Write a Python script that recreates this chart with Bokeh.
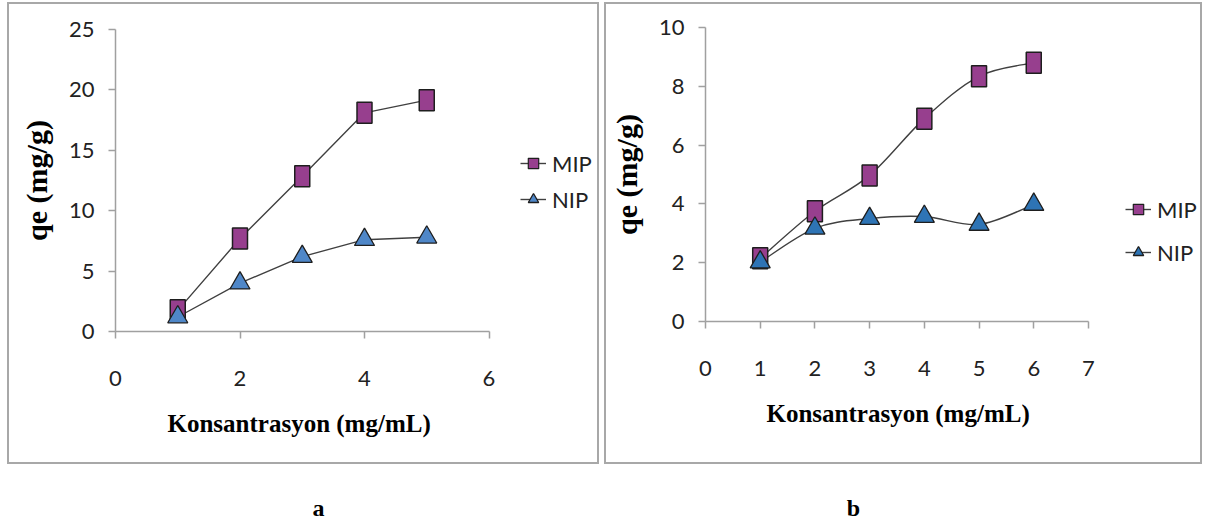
from bokeh.plotting import figure
from bokeh.models import Range1d, Legend, LegendItem, Label, Spacer, FixedTicker, Title
from bokeh.layouts import row, column
from bokeh.embed import file_html
from bokeh.resources import INLINE

# ---------------- data ----------------
conc_a = [1, 2, 3, 4, 5]
mip_a = [1.75, 7.7, 12.85, 18.1, 19.15]
nip_a = [1.2, 4.0, 6.2, 7.6, 7.8]

conc_b = [1, 2, 3, 4, 5, 6]
mip_b = [2.15, 3.75, 4.97, 6.9, 8.34, 8.8]
nip_b = [2.02, 3.17, 3.5, 3.57, 3.3, 3.98]

x_ticks_a = [0, 2, 4, 6]
y_ticks_a = [0, 5, 10, 15, 20, 25]
x_ticks_b = [0, 1, 2, 3, 4, 5, 6, 7]
y_ticks_b = [0, 2, 4, 6, 8, 10]

series_names = ["MIP", "NIP"]
panel_labels = ["a", "b"]
x_title = "Konsantrasyon (mg/mL)"
y_title = "qe (mg/g)"

# ---------------- styles ----------------
MIP_FILL = "#973F8E"
NIP_FILL_A = "#4F87C8"
NIP_FILL_B = "#2E74B5"
EDGE = "#1E1E1E"
LINE = "#404040"
AXIS = "#A0A0A0"
BOX = "#A8A8A8"
TICK_FONT = "Lato"
TITLE_FONT = "Liberation Serif"
FIG_H = 470
BOX_H = 462


def catmull_bezier(xs, ys):
    n = len(xs)
    out = dict(x0=[], y0=[], x1=[], y1=[], cx0=[], cy0=[], cx1=[], cy1=[])
    for i in range(n - 1):
        xm, ym = (xs[i - 1], ys[i - 1]) if i > 0 else (xs[i], ys[i])
        xp, yp = (xs[i + 2], ys[i + 2]) if i + 2 < n else (xs[i + 1], ys[i + 1])
        out["x0"].append(xs[i]); out["y0"].append(ys[i])
        out["x1"].append(xs[i + 1]); out["y1"].append(ys[i + 1])
        out["cx0"].append(xs[i] + (xs[i + 1] - xm) / 6.0)
        out["cy0"].append(ys[i] + (ys[i + 1] - ym) / 6.0)
        out["cx1"].append(xs[i + 1] - (xp - xs[i]) / 6.0)
        out["cy1"].append(ys[i + 1] - (yp - ys[i]) / 6.0)
    return out


def box_styles(w):
    g = f"linear-gradient({BOX},{BOX})"
    return {
        "background-image": ", ".join([g] * 4),
        "background-size": f"{w}px 2px, {w}px 2px, 2px {BOX_H}px, 2px {BOX_H}px",
        "background-position": f"0px 0px, 0px {BOX_H - 2}px, 0px 0px, {w - 2}px 0px",
        "background-repeat": "no-repeat",
    }


def make_panel(x, mip, nip, x_end, xr_view, yr, xt, yt, width, borders, smooth,
               nip_fill, leg_loc, leg_spacing, title_offset):
    bl, bt, bb = borders
    p = figure(width=width, height=FIG_H, x_range=Range1d(0, x_end), y_range=Range1d(*yr),
               output_backend="svg", toolbar_location=None,
               min_border_left=bl, min_border_right=0,
               min_border_top=bt, min_border_bottom=bb,
               background_fill_color=None, border_fill_color=None,
               styles=box_styles(width))
    p.outline_line_color = None
    p.xgrid.visible = False
    p.ygrid.visible = False

    for ax in (p.xaxis[0], p.yaxis[0]):
        ax.axis_line_color = AXIS
        ax.axis_line_width = 1.5
        ax.major_tick_line_color = AXIS
        ax.major_tick_line_width = 1.5
        ax.major_tick_in = 0
        ax.major_tick_out = 7
        ax.minor_tick_line_color = None
        ax.major_label_text_font = TICK_FONT
        ax.major_label_text_font_size = "22px"
        ax.major_label_text_color = "#222222"
        ax.axis_label_text_font = TITLE_FONT
        ax.axis_label_text_font_style = "bold"
        ax.axis_label_text_color = "#000000"
    p.xaxis.bounds = xr_view
    p.xaxis.ticker = FixedTicker(ticks=xt)
    p.yaxis.ticker = FixedTicker(ticks=yt)
    p.xaxis.major_label_standoff = 32
    p.yaxis.major_label_standoff = 14
    p.yaxis.axis_label = y_title
    p.yaxis.axis_label_text_font_size = "30px"
    p.yaxis.axis_label_standoff = 13

    p.add_layout(Title(text=x_title, align="left", offset=title_offset,
                       text_font=TITLE_FONT, text_font_style="bold",
                       text_font_size="25px", text_color="#000000",
                       standoff=38), "below")

    # connecting lines
    if smooth:
        for ys in (mip, nip):
            p.bezier(source=catmull_bezier(x, ys), x0="x0", y0="y0", x1="x1", y1="y1",
                     cx0="cx0", cy0="cy0", cx1="cx1", cy1="cy1",
                     line_color=LINE, line_width=1.4)
        l_mip = p.line(x, mip, line_color=LINE, line_width=1.4, visible=False)
        l_nip = p.line(x, nip, line_color=LINE, line_width=1.4, visible=False)
    else:
        l_mip = p.line(x, mip, line_color=LINE, line_width=1.4)
        l_nip = p.line(x, nip, line_color=LINE, line_width=1.4)

    # markers
    p.rect(x, mip, width=15, height=21, width_units="screen", height_units="screen",
           fill_color=MIP_FILL, line_color=EDGE, line_width=1.5)
    leg_sq = p.scatter(x, mip, marker="square", size=10, fill_color=MIP_FILL,
                       line_color=EDGE, line_width=1.2, visible=False)
    tri = p.scatter(x, nip, marker="triangle", size=20, fill_color=nip_fill,
                    line_color=EDGE, line_width=1.3)

    legend = Legend(items=[LegendItem(label=series_names[0], renderers=[l_mip, leg_sq]),
                           LegendItem(label=series_names[1], renderers=[l_nip, tri])],
                    location=leg_loc, orientation="vertical",
                    glyph_width=26, glyph_height=30, label_height=30,
                    spacing=leg_spacing, padding=0, margin=0, label_standoff=6,
                    border_line_color=None, background_fill_alpha=0,
                    label_text_font=TICK_FONT, label_text_font_size="22px",
                    label_text_color="#222222")
    p.add_layout(legend)
    return p


pa = make_panel(conc_a, mip_a, nip_a, (592 - 108) / 62.25, (0, 6), (0, 25),
                x_ticks_a, y_ticks_a, 592, (108, 27, FIG_H - 329), False,
                NIP_FILL_A, (405, 117), 6, 52)
pb = make_panel(conc_b, mip_b, nip_b, (598 - 101) / 54.71, (0, 7), (0, 10),
                x_ticks_b, y_ticks_b, 598, (101, 25, FIG_H - 319), True,
                NIP_FILL_B, (420, 54), 13, 61)

LAB_H = 526 - 2 - FIG_H
lab = figure(width=1205, height=LAB_H, x_range=Range1d(0, 1205), y_range=Range1d(0, LAB_H),
             output_backend="svg", toolbar_location=None, min_border=0,
             x_axis_location=None, y_axis_location=None)
lab.outline_line_color = None
lab.xgrid.visible = False
lab.ygrid.visible = False
for txt, xpos in zip(panel_labels, [318, 853]):
    lab.add_layout(Label(x=xpos, y=LAB_H - (507 - 2 - FIG_H), text=txt, text_align="center",
                         text_baseline="middle", text_font=TITLE_FONT,
                         text_font_style="bold", text_font_size="24px",
                         text_color="#000000"))

# each panel in its own column so that their frames are not aligned with each other
layout = column(Spacer(width=1205, height=2),
                row(Spacer(width=7, height=FIG_H), column(pa), Spacer(width=5, height=FIG_H),
                    column(pb)),
                lab)

open("out.html", "w").write(file_html(layout, INLINE))
